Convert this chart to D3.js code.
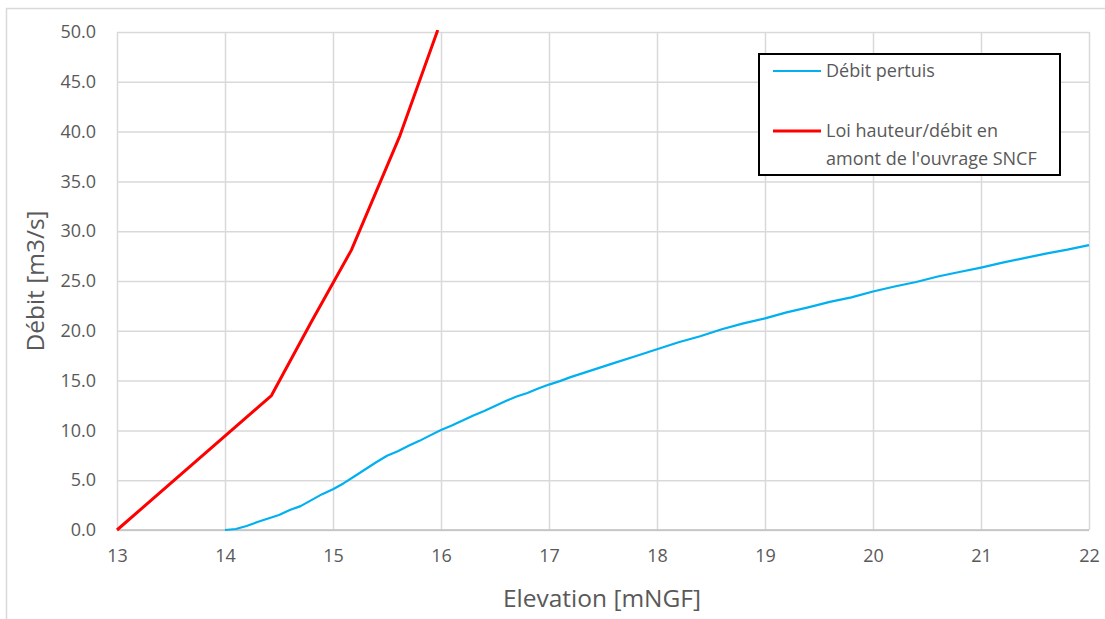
<!DOCTYPE html>
<html>
<head>
<meta charset="utf-8">
<script src="https://cdnjs.cloudflare.com/ajax/libs/d3/7.8.5/d3.min.js"></script>
<style>
  body { margin: 0; background: #fff; }
  svg text { font-family: "Open Sans", "Noto Sans", sans-serif; fill: #595959; }
</style>
</head>
<body>
<div id="chart"></div>
<script>
//========================
//   Data
//========================
// Débit pertuis (blue)
var pertuisElev = [14.0, 14.1, 14.2, 14.3, 14.4, 14.5, 14.6, 14.7, 14.8, 14.9,
                   15.0, 15.1, 15.2, 15.3, 15.4, 15.5, 15.6, 15.7, 15.8, 15.9,
                   16.0, 16.1, 16.2, 16.3, 16.4, 16.5, 16.6, 16.7, 16.8, 16.9,
                   17.0, 17.1, 17.2, 17.4, 17.6, 17.8, 18.0, 18.2, 18.4, 18.6,
                   18.8, 19.0, 19.2, 19.4, 19.6, 19.8, 20.0, 20.2, 20.4, 20.6,
                   20.8, 21.0, 21.2, 21.4, 21.6, 21.8, 22.0];
var pertuisDebit = [0, 0.1, 0.4, 0.8, 1.15, 1.5, 2.0, 2.4, 3.0, 3.6,
                    4.1, 4.7, 5.4, 6.1, 6.8, 7.45, 7.9, 8.45, 8.95, 9.5,
                    10.05, 10.5, 11.0, 11.5, 11.95, 12.45, 12.95, 13.4, 13.75, 14.2,
                    14.6, 14.95, 15.35, 16.05, 16.75, 17.45, 18.15, 18.85, 19.45, 20.15,
                    20.75, 21.25, 21.85, 22.35, 22.9, 23.35, 23.95, 24.45, 24.9, 25.45,
                    25.9, 26.35, 26.85, 27.3, 27.75, 28.15, 28.6];

// Loi hauteur/débit en amont de l'ouvrage SNCF (red)
var loiElev = [13.0, 14.43, 14.8, 15.17, 15.62, 15.97];
var loiDebit = [0, 13.5, 20.9, 28.1, 39.6, 50.2];

var xTicks = [13, 14, 15, 16, 17, 18, 19, 20, 21, 22];
var yTicks = [0, 5, 10, 15, 20, 25, 30, 35, 40, 45, 50];

var seriesNames = ["Débit pertuis", "Loi hauteur/débit en", "amont de l'ouvrage SNCF"];

//========================
//   Layout
//========================
var width = 1105, height = 619;
var plot = {left: 117, right: 1089, top: 32, bottom: 530};

var svg = d3.select("#chart").append("svg")
  .attr("width", width)
  .attr("height", height);

// outer chart frame
svg.append("rect")
  .attr("x", 6.5).attr("y", 8.5)
  .attr("width", width + 20).attr("height", height + 20)
  .attr("fill", "#fff")
  .attr("stroke", "#d9d9d9")
  .attr("stroke-width", 1.5);

var x = d3.scaleLinear().domain([13, 22]).range([plot.left, plot.right]);
var y = d3.scaleLinear().domain([0, 50]).range([plot.bottom, plot.top]);

//Gridlines
svg.append("g")
  .attr("transform", "translate(0," + plot.bottom + ")")
  .call(d3.axisBottom(x).tickValues(xTicks).tickSize(-(plot.bottom - plot.top)).tickFormat(""))
  .call(function(g) {
    g.select(".domain").remove();
    g.selectAll("line").attr("stroke", "#d9d9d9").attr("stroke-width", 1.5);
  });

svg.append("g")
  .attr("transform", "translate(" + plot.left + ",0)")
  .call(d3.axisLeft(y).tickValues(yTicks).tickSize(-(plot.right - plot.left)).tickFormat(""))
  .call(function(g) {
    g.select(".domain").remove();
    g.selectAll("line").attr("stroke", "#d9d9d9").attr("stroke-width", 1.5);
  });

// bottom axis line (slightly darker)
svg.append("line")
  .attr("x1", plot.left).attr("x2", plot.right)
  .attr("y1", y(0)).attr("y2", y(0))
  .attr("stroke", "#bfbfbf").attr("stroke-width", 1.5);

//Tick labels
svg.append("g")
  .attr("transform", "translate(0," + plot.bottom + ")")
  .call(d3.axisBottom(x).tickValues(xTicks).tickSize(0).tickPadding(19).tickFormat(d3.format("d")))
  .call(function(g) {
    g.select(".domain").remove();
    g.selectAll("text").style("font-size", "18px").attr("fill", "#595959")
      .style("font-family", "'Open Sans', sans-serif");
  });

svg.append("g")
  .attr("transform", "translate(" + plot.left + ",0)")
  .call(d3.axisLeft(y).tickValues(yTicks).tickSize(0).tickPadding(21).tickFormat(d3.format(".1f")))
  .call(function(g) {
    g.select(".domain").remove();
    g.selectAll("text").style("font-size", "18px").attr("fill", "#595959")
      .style("font-family", "'Open Sans', sans-serif");
  });

//Axis titles
svg.append("text")
  .attr("x", 602).attr("y", 607)
  .attr("text-anchor", "middle")
  .style("font-size", "24.5px")
  .text("Elevation [mNGF]");

svg.append("text")
  .attr("transform", "translate(44,281) rotate(-90)")
  .attr("text-anchor", "middle")
  .style("font-size", "24.5px")
  .text("Débit [m3/s]");

//========================
//   Series
//========================
svg.append("clipPath").attr("id", "clip")
  .append("rect")
  .attr("x", plot.left - 2).attr("y", plot.top - 2)
  .attr("width", plot.right - plot.left + 4).attr("height", plot.bottom - plot.top + 4);

var line = d3.line()
  .x(function(d) { return x(d[0]); })
  .y(function(d) { return y(d[1]); });

var pertuis = d3.zip(pertuisElev, pertuisDebit);
var loi = d3.zip(loiElev, loiDebit);

svg.append("path")
  .datum(pertuis)
  .attr("clip-path", "url(#clip)")
  .attr("d", line)
  .attr("fill", "none")
  .attr("stroke", "#00b0f0")
  .attr("stroke-width", 2.2)
  .attr("stroke-linejoin", "round");

svg.append("path")
  .datum(loi)
  .attr("clip-path", "url(#clip)")
  .attr("d", line)
  .attr("fill", "none")
  .attr("stroke", "#ff0000")
  .attr("stroke-width", 3)
  .attr("stroke-linejoin", "round");

//========================
//   Legend
//========================
var legend = svg.append("g");
legend.append("rect")
  .attr("x", 759).attr("y", 54)
  .attr("width", 301).attr("height", 121)
  .attr("fill", "#fff")
  .attr("stroke", "#000")
  .attr("stroke-width", 2);

legend.append("line")
  .attr("x1", 773).attr("x2", 821).attr("y1", 71).attr("y2", 71)
  .attr("stroke", "#00b0f0").attr("stroke-width", 2.2);
legend.append("line")
  .attr("x1", 773).attr("x2", 821).attr("y1", 131).attr("y2", 131)
  .attr("stroke", "#ff0000").attr("stroke-width", 3);

legend.selectAll("text.item")
  .data(seriesNames)
  .enter().append("text")
  .attr("class", "item")
  .attr("x", 826)
  .attr("y", function(d, i) { return [77, 137, 165][i]; })
  .style("font-size", "18px")
  .text(function(d) { return d; });
</script>
</body>
</html>
